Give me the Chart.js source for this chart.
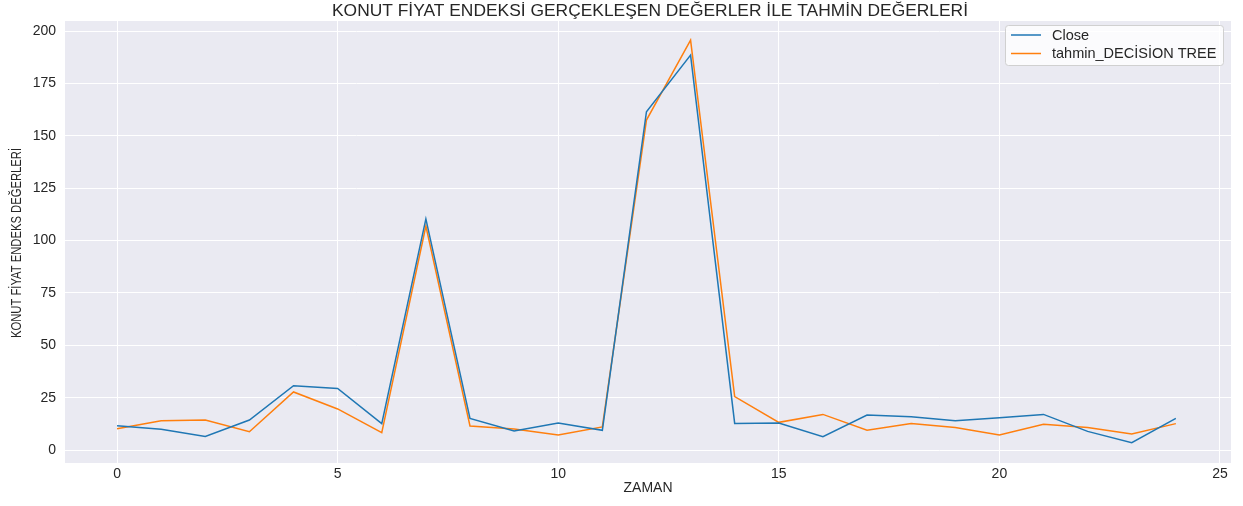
<!DOCTYPE html>
<html>
<head>
<meta charset="utf-8">
<script src="https://cdn.jsdelivr.net/npm/chart.js@4"></script>
<style>
  html, body { margin:0; padding:0; background:#fff; }
  #wrap { width:1243px; height:506px; }
</style>
</head>
<body>
<div id="wrap"><canvas id="myChart" width="1243" height="506"></canvas></div>
<script>
// values
const zaman = [0,1,2,3,4,5,6,7,8,9,10,11,12,13,14,15,16,17,18,19,20,21,22,23,24];
const close = [11.6,9.9,6.5,14.3,30.7,29.4,12.6,110.3,15.1,9.1,12.9,9.4,161.5,188.5,12.7,12.9,6.4,16.7,15.9,14.0,15.4,17.0,8.9,3.5,15.1];
const tahmin = [10.2,14.0,14.3,8.7,27.7,19.6,8.3,106.9,11.5,10.0,7.2,11.0,157.5,195.7,25.5,13.2,17.0,9.4,12.7,10.8,7.2,12.3,10.8,7.6,12.6];
const xTicks = [0,5,10,15,20,25];
const yTicks = [0,25,50,75,100,125,150,175,200];
const baslik = 'KONUT FİYAT ENDEKSİ GERÇEKLEŞEN DEĞERLER İLE TAHMİN DEĞERLERİ';
const yBaslik = 'KONUT FİYAT ENDEKS DEĞERLERİ';

const sansFont = "'Liberation Sans', Arial, sans-serif";
const textColor = '#262626';

// draw text squeezed to a given width (the reference uses a narrow face)
function narrowText(ctx, txt, size, cx, cy, width, angle){
    ctx.save();
    ctx.font = size + 'px ' + sansFont;
    ctx.fillStyle = textColor;
    ctx.textAlign = 'center';
    ctx.textBaseline = 'middle';
    var sx = width / ctx.measureText(txt).width;
    ctx.translate(cx, cy);
    ctx.rotate(angle);
    ctx.scale(sx, 1);
    ctx.fillText(txt, 0, 0);
    ctx.restore();
}

// seaborn-ish gray background for the plot area
const bgPlugin = {
    id:'plotBg',
    beforeDraw(chart){
        const a = chart.chartArea, ctx = chart.ctx;
        ctx.save();
        ctx.fillStyle = '#EAEAF2';
        ctx.fillRect(a.left, a.top, a.right - a.left, a.bottom - a.top);
        ctx.restore();
    }
};

// titles + legend box inside the plot, upper right
const extras = {
    id:'extras',
    afterDraw(chart){
        const ctx = chart.ctx;
        narrowText(ctx, baslik, 17, 650, 11, 636, 0);
        narrowText(ctx, yBaslik, 14, 17, 243, 190, -Math.PI / 2);

        const x = 1005, y = 25, w = 218, h = 40;
        ctx.save();
        ctx.fillStyle = 'rgba(255,255,255,0.8)';
        ctx.strokeStyle = '#d0d0d0';
        ctx.lineWidth = 1;
        ctx.beginPath();
        ctx.roundRect(x + 0.5, y + 0.5, w, h, 3);
        ctx.fill();
        ctx.stroke();
        ctx.font = '14.5px ' + sansFont;
        ctx.textBaseline = 'middle';
        chart.data.datasets.forEach(function(ds, i){
            const ly = 35 + i * 18.5;
            ctx.strokeStyle = ds.borderColor;
            ctx.lineWidth = 1.5;
            ctx.beginPath();
            ctx.moveTo(1011, ly);
            ctx.lineTo(1041, ly);
            ctx.stroke();
            ctx.fillStyle = textColor;
            ctx.fillText(ds.label, 1052, ly + 0.5);
        });
        ctx.restore();
    }
};

var ctx = document.getElementById('myChart').getContext('2d');
var chart = new Chart(ctx, {
    type:'line',
    data:{
        datasets:[{
            label:'Close',
            data: zaman.map(function(z, i){ return {x:z, y:close[i]}; }),
            borderColor:'#1f77b4',
            backgroundColor:'#1f77b4',
            borderWidth:1.5,
            pointRadius:0,
            tension:0
        },{
            label:'tahmin_DECİSİON TREE',
            data: zaman.map(function(z, i){ return {x:z, y:tahmin[i]}; }),
            borderColor:'#ff7f0e',
            backgroundColor:'#ff7f0e',
            borderWidth:1.5,
            pointRadius:0,
            tension:0
        }]
    },
    options:{
        responsive:false,
        animation:false,
        layout:{ padding:{ left:0, right:12, top:21, bottom:0 } },
        plugins:{
            legend:{ display:false },
            tooltip:{ enabled:false },
            title:{ display:false }
        },
        scales:{
            x:{
                type:'linear',
                min:-1.18, max:25.25,
                afterBuildTicks(scale){ scale.ticks = xTicks.map(function(v){ return {value:v}; }); },
                afterFit(scale){ scale.height = 43; },
                grid:{ color:'#ffffff', lineWidth:1, drawTicks:false },
                border:{ display:false },
                ticks:{ color:textColor, padding:3, font:{ family:sansFont, size:14 } },
                title:{
                    display:true, text:'ZAMAN', color:textColor,
                    font:{ family:sansFont, size:14 }, padding:{ top:0, bottom:9 }
                }
            },
            y:{
                min:-6.2, max:204.8,
                afterBuildTicks(scale){ scale.ticks = yTicks.map(function(v){ return {value:v}; }); },
                afterFit(scale){ scale.width = 65; },
                grid:{ color:'#ffffff', lineWidth:1, drawTicks:false },
                border:{ display:false },
                ticks:{ color:textColor, padding:9, font:{ family:sansFont, size:14 } }
            }
        }
    },
    plugins:[bgPlugin, extras]
});
</script>
</body>
</html>
